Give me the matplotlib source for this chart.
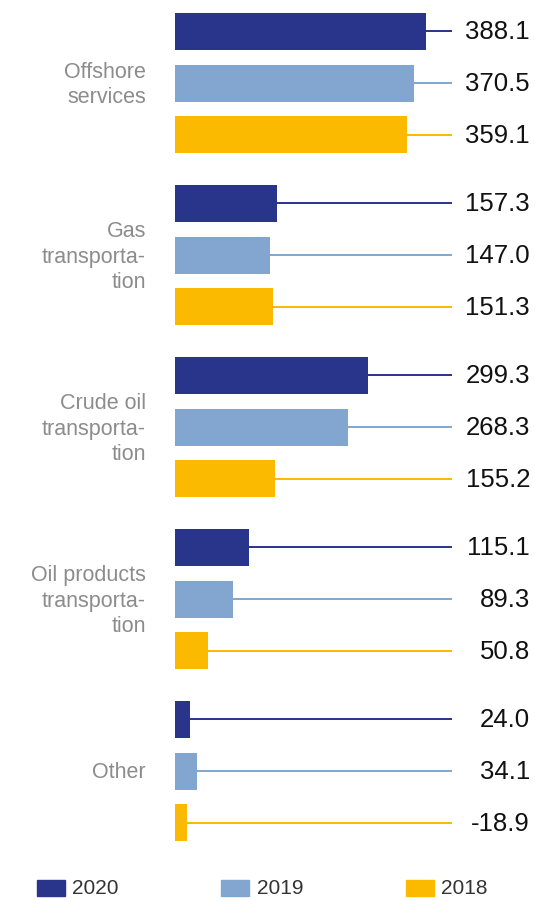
import matplotlib
matplotlib.use("Agg")
import matplotlib.pyplot as plt
import matplotlib.transforms as mtransforms
from matplotlib.patches import Rectangle
import numpy as np

plt.rcParams['font.family'] = ['Liberation Sans', 'DejaVu Sans']

categories = ["Offshore\nservices", "Gas\ntransporta-\ntion", "Crude oil\ntransporta-\ntion",
              "Oil products\ntransporta-\ntion", "Other"]
series_names = ["2020", "2019", "2018"]
values_2020 = [388.1, 157.3, 299.3, 115.1, 24.0]
values_2019 = [370.5, 147.0, 268.3, 89.3, 34.1]
values_2018 = [359.1, 151.3, 155.2, 50.8, -18.9]
colors = ["#29348b", "#82a6d0", "#fbb900"]

W, H = 535, 900
fig = plt.figure(figsize=(W / 100, H / 100), dpi=100)
x0_px, x1_px = 175, 452
scale = 0.6457  # px per unit
ax = fig.add_axes([x0_px / W, 0, (x1_px - x0_px) / W, 1])
ax.set_xlim(0, (x1_px - x0_px) / scale)
ax.set_ylim(H, 0)
ax.axis("off")

group_step = 172.0
bar_step = 51.7
first_center = 31.3
bar_h = 37.0

lab_tr = mtransforms.blended_transform_factory(fig.transFigure, ax.transData)
all_vals = [values_2020, values_2019, values_2018]
for s, (vals, col) in enumerate(zip(all_vals, colors)):
    ys = np.array([first_center + g * group_step + s * bar_step for g in range(len(categories))])
    ax.barh(ys, np.abs(vals), height=bar_h, color=col, zorder=2, left=0)
    for y, v in zip(ys, vals):
        ax.plot([0, ax.get_xlim()[1]], [y, y], color=col, lw=1.4, zorder=1, solid_capstyle="butt")
        ax.text(530 / W, y + 1, f"{v:.1f}", transform=lab_tr, ha="right", va="center",
                fontsize=18.5, color="#111111")

for g, cat in enumerate(categories):
    y = first_center + g * group_step + bar_step + 2
    ax.text(146 / W, y, cat, transform=lab_tr, ha="right", va="center", fontsize=15.5,
            color="#8c8c8c", linespacing=1.28, multialignment="right")

# legend
leg_y = 888
for name, col, sx in zip(series_names, colors, [36.5, 221, 406]):
    fig.patches.append(Rectangle((sx / W, 1 - (leg_y + 8) / H), 28 / W, 16 / H,
                                 transform=fig.transFigure, color=col))
    fig.text((sx + 35.5) / W, 1 - (leg_y + 1) / H, name, ha="left", va="center",
             fontsize=15, color="#333333")

fig.savefig("out.png", dpi=100)
